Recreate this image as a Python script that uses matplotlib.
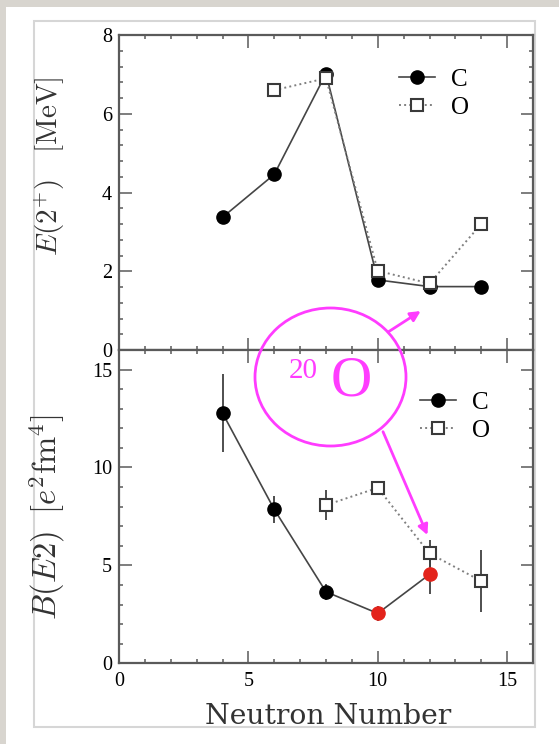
import matplotlib
matplotlib.use("Agg")
import matplotlib.pyplot as plt
from matplotlib.patches import Rectangle, Ellipse
from matplotlib.ticker import MultipleLocator
from matplotlib.lines import Line2D

# ---- data -------------------------------------------------------------
# E(2+) energies [MeV] versus neutron number
n_c_e = [4, 6, 8, 10, 12, 14]
e2_c = [3.37, 4.46, 7.02, 1.78, 1.61, 1.61]
n_o_e = [6, 8, 10, 12, 14]
e2_o = [6.60, 6.90, 2.01, 1.69, 3.20]

# B(E2) values [e^2 fm^4] with uncertainties
n_c_b = [4, 6, 8, 10, 12]
be2_c = [12.78, 7.86, 3.65, 2.55, 4.54]
be2_c_err = [2.0, 0.7, 0.4, 0.4, 1.0]
c_new = [False, False, False, True, True]   # new measurements shown in red
n_o_b = [8, 10, 12, 14]
be2_o = [8.08, 8.96, 5.61, 4.20]
be2_o_err = [0.77, 0.3, 0.68, 1.6]

x_ticks = [0, 5, 10, 15]
e_ticks = [0, 2, 4, 6, 8]
b_ticks = [0, 5, 10, 15]

# ---- style ------------------------------------------------------------
W, H = 559, 744
plt.rcParams["mathtext.fontset"] = "cm"
plt.rcParams["font.family"] = ["Liberation Serif", "DejaVu Serif"]

SPINE = "#5a5a5a"
LINE_C = "#454545"
LINE_O = "#808080"
MAG = "#ff3cff"
RED = "#e3231b"
LABEL = "#333333"


def fx(px):
    return px / W


def fy(py):
    return 1 - py / H


fig = plt.figure(figsize=(W / 100, H / 100), dpi=100)
fig.patch.set_facecolor("#d8d5cf")

# white card and the framed panel behind the plots
fig.add_artist(Rectangle((fx(6), 0), fx(W - 6), 1 - 7 / H, transform=fig.transFigure,
                         facecolor="white", edgecolor="none", zorder=-3))
fig.add_artist(Rectangle((fx(34), fy(727)), fx(501), (727 - 21) / H, transform=fig.transFigure,
                         facecolor="white", edgecolor="#d6d6d6", lw=1.5, zorder=-2))

left, right = fx(119), fx(533)
ax_e = fig.add_axes([left, fy(350), right - left, fy(35) - fy(350)])
ax_b = fig.add_axes([left, fy(663.3), right - left, fy(350) - fy(663.3)])


def style_axes(ax, ymajor, yminor):
    ax.set_xlim(0, 16)
    ax.xaxis.set_major_locator(MultipleLocator(5))
    ax.xaxis.set_minor_locator(MultipleLocator(1))
    ax.yaxis.set_major_locator(MultipleLocator(ymajor))
    ax.yaxis.set_minor_locator(MultipleLocator(yminor))
    ax.tick_params(which="both", direction="in", top=True, right=True,
                   color=SPINE, width=1.1, labelsize=14.5)
    ax.tick_params(which="major", length=9)
    ax.tick_params(which="minor", length=3.2)
    ax.tick_params(axis="y", pad=5)
    ax.tick_params(axis="x", pad=6)
    for s in ax.spines.values():
        s.set_color(SPINE)
        s.set_linewidth(1.6)


# ---- top panel: E(2+) ---------------------------------------------------
style_axes(ax_e, 2, 0.4)
ax_e.set_ylim(0, 8)
ax_e.set_yticks(e_ticks)
ax_e.tick_params(axis="x", labelbottom=False)
ax_e.plot(n_c_e, e2_c, "-", color=LINE_C, lw=1.2, zorder=2)
ax_e.plot(n_c_e, e2_c, "o", color="black", ms=9.5, zorder=3)
ax_e.plot(n_o_e, e2_o, ":", color=LINE_O, lw=1.4, zorder=4)
ax_e.plot(n_o_e, e2_o, "s", mfc="white", mec="#3a3a3a", mew=1.5, ms=8.5, zorder=5)
ax_e.set_ylabel(r"$E(2^{+})\quad[\mathrm{MeV}]$", fontsize=21, color=LABEL)
ax_e.yaxis.set_label_coords(-0.125, 0.585)

# ---- bottom panel: B(E2) ------------------------------------------------
style_axes(ax_b, 5, 1)
ax_b.set_ylim(0, 16)
ax_b.set_yticks(b_ticks)
ax_b.set_xticks(x_ticks)
ax_b.plot(n_c_b, be2_c, "-", color=LINE_C, lw=1.2, zorder=2)
ax_b.errorbar(n_c_b, be2_c, yerr=be2_c_err, fmt="none", ecolor="#404040",
              elinewidth=1.3, capsize=0, zorder=2)
c_cols = [RED if nw else "black" for nw in c_new]
for xv, yv, col in zip(n_c_b, be2_c, c_cols):
    ax_b.plot([xv], [yv], "o", color=col, ms=9.5, zorder=3)
ax_b.plot(n_o_b, be2_o, ":", color=LINE_O, lw=1.4, zorder=4)
ax_b.errorbar(n_o_b, be2_o, yerr=be2_o_err, fmt="none", ecolor="#404040",
              elinewidth=1.3, capsize=0, zorder=4)
ax_b.plot(n_o_b, be2_o, "s", mfc="white", mec="#3a3a3a", mew=1.5, ms=8.5, zorder=5)
ax_b.set_ylabel(r"$B(E2)\;\;[e^{2}\mathrm{fm}^{4}]$", fontsize=23.5, color=LABEL)
ax_b.yaxis.set_label_coords(-0.125, 0.467)

# x label drawn as figure text so it sits just above the panel edge
fig.text(fx(328), fy(724), "Neutron Number", ha="center", va="baseline",
         fontsize=20.3, family=["DejaVu Serif"], color=LABEL)

# ---- legends ------------------------------------------------------------
h_c = Line2D([], [], color=LINE_C, lw=1.2, marker="o", mfc="black", mec="black", ms=9.5)
h_o = Line2D([], [], color=LINE_O, lw=1.4, ls=":", marker="s", mfc="white",
             mec="#3a3a3a", mew=1.5, ms=8.5)
for ax, anchor in ((ax_e, (0.676, 0.895)), (ax_b, (0.727, 0.869))):
    ax.legend([h_c, h_o], ["C", "O"], loc="upper left", bbox_to_anchor=anchor,
              frameon=False, fontsize=18, handlelength=1.45, handletextpad=0.65,
              borderpad=0, borderaxespad=0, labelspacing=0.22)

# ---- 20O callout ----------------------------------------------------------
fig.add_artist(Ellipse((fx(330.5), fy(377)), fx(151), 138 / H, transform=fig.transFigure,
                       facecolor="none", edgecolor=MAG, lw=2.0, zorder=10))
fig.text(fx(289), fy(378), "20", fontsize=21, color=MAG, ha="left", va="baseline", zorder=11)
fig.text(fx(331), fy(395), "O", fontsize=41, color=MAG, ha="left", va="baseline", zorder=11)

arrow = dict(arrowstyle="-|>", color=MAG, lw=2.0, mutation_scale=15, shrinkA=0, shrinkB=0)
ax_e.annotate("", xy=(11.66, 0.99), xycoords="data",
              xytext=(fx(388.6), fy(331.7)), textcoords="figure fraction",
              arrowprops=arrow, annotation_clip=False, zorder=10)
ax_b.annotate("", xy=(11.92, 6.55), xycoords="data",
              xytext=(fx(383), fy(431.7)), textcoords="figure fraction",
              arrowprops=arrow, annotation_clip=False, zorder=10)

fig.savefig("out.png", dpi=100, facecolor=fig.get_facecolor())
